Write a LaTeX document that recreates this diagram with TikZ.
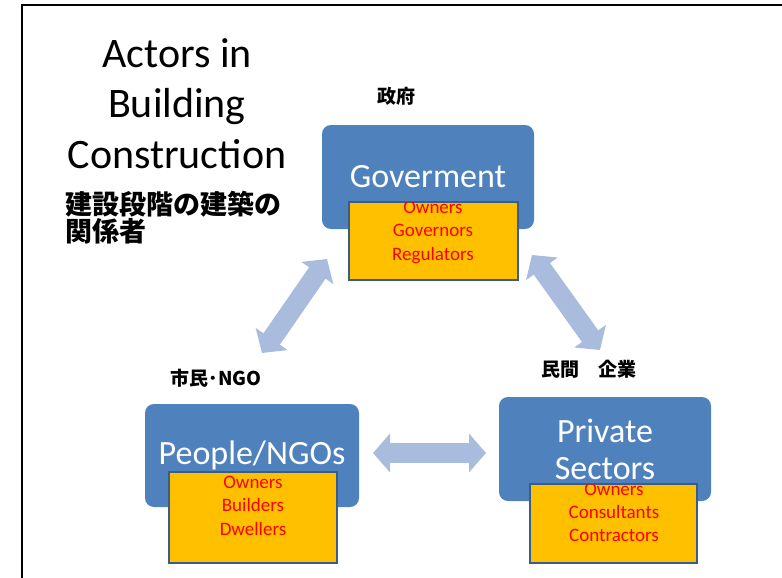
\documentclass[tikz,border=0pt]{standalone}
\usepackage{fontspec}
\setmainfont{Carlito}
\newfontfamily\jp{Noto Sans CJK JP}
\usetikzlibrary{arrows.meta}
\definecolor{actorblue}{RGB}{79,129,189}
\definecolor{rolegold}{RGB}{255,192,0}
\definecolor{roleedge}{RGB}{56,93,138}
\definecolor{linkblue}{RGB}{170,188,222}
\begin{document}
\begin{tikzpicture}[x=1pt,y=-1pt,
    actor/.style={fill=actorblue,rounded corners=9pt,text=white,align=center,inner sep=0pt,
      font=\fontsize{34}{37}\selectfont},
    roles/.style={draw=roleedge,line width=1.2pt,fill=rolegold,inner sep=0pt},
    role/.style={text=red,anchor=base,inner sep=0pt,font=\fontsize{19}{23}\selectfont},
    heading/.style={anchor=base,inner sep=0pt,font=\fontsize{42}{50}\selectfont},
    jplabel/.style={anchor=base,inner sep=0pt,font=\jp\bfseries\fontsize{19}{22}\selectfont},
    link/.style={linkblue,line width=20pt,>={Triangle[width=38pt,length=17pt]},<->}]
  \useasboundingbox (0,0) rectangle (782,578);
  \draw[line width=2pt] (22,578) -- (22,5) -- (782,5); % frame

  % title
  \foreach \t [count=\i from 0] in {Actors in,Building,Construction}
    \node[heading] (head\i) at (177,67+50.5*\i) {\t};
  \node[heading,anchor=base west,font=\jp\bfseries\fontsize{27}{27}\selectfont] (jp1) at (65,214) {建設段階の建築の};
  \node[heading,anchor=base west,font=\jp\bfseries\fontsize{27}{27}\selectfont] (jp2) at (65,241) {関係者};

  % links between actors
  \coordinate (l1) at (262,353); \coordinate (l2) at (327,259);
  \coordinate (r1) at (532,255); \coordinate (r2) at (600,350);
  \coordinate (h1) at (373,453); \coordinate (h2) at (486,453);
  \draw[link] (l1) -- (l2);
  \draw[link] (r1) -- (r2);
  \draw[link] (h1) -- (h2);

  % actors
  \node[actor,minimum width=212pt,minimum height=104pt] (gov) at (428,177) {Goverment};
  \node[actor,minimum width=214pt,minimum height=103pt] (ppl) at (252,455.5) {People/NGOs};
  \node[actor,minimum width=212pt,minimum height=104pt] (pvt) at (605,449) {Private\\Sectors};

  \node[roles,minimum width=169pt,minimum height=78pt] (govroles) at (433.5,241) {};
  \node[roles,minimum width=168pt,minimum height=91pt] (pplroles) at (253,517.5) {};
  \node[roles,minimum width=167pt,minimum height=79pt] (pvtroles) at (613.5,523.5) {};

  \begin{scope}
    \clip ([shift={(1.5,-1.5)}]govroles.south west) rectangle ([shift={(-1.5,1.5)}]govroles.north east);
    \foreach \t [count=\i from 0] in {Owners,Governors,Regulators}
      \node[role] at (433,213+23.5*\i) {\t};
  \end{scope}
  \foreach \t [count=\i from 0] in {Owners,Builders,Dwellers}
    \node[role] at (253,488+23.5*\i) {\t};
  \begin{scope}
    \clip ([shift={(1.5,-1.5)}]pvtroles.south west) rectangle ([shift={(-1.5,1.5)}]pvtroles.north east);
    \foreach \t [count=\i from 0] in {Owners,Consultants,Contractors}
      \node[role] at (614,495+23*\i) {\t};
  \end{scope}

  % japanese labels
  \node[jplabel] (govjp) at (396,103) {政府};
  \node[jplabel] (ppljp) at (216,385) {市民･NGO};
  \node[jplabel] (pvtjp) at (589,376) {民間　企業};
\end{tikzpicture}
\end{document}
